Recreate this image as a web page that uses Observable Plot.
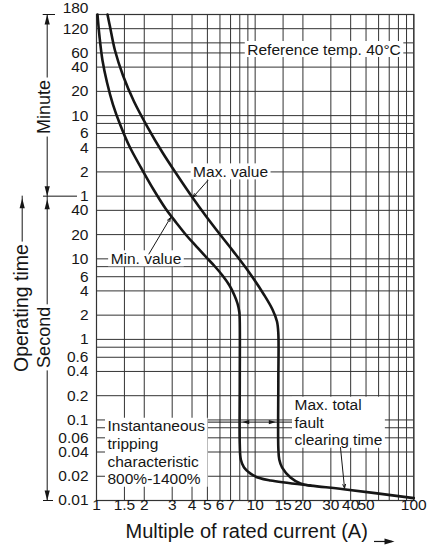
<!DOCTYPE html>
<html><head><meta charset="utf-8">
<script src="https://cdn.jsdelivr.net/npm/d3@7"></script>
<script src="https://cdn.jsdelivr.net/npm/@observablehq/plot@0.6"></script>
<style>html,body{margin:0;padding:0;background:#fff;}</style>
</head><body><div id="chart"></div>
<script>
// ---------------- data (multiple of rated current, operating time in seconds) ----------------
const minCurveX = [1.0146, 1.0445, 1.091, 1.165, 1.27, 1.417, 1.615, 1.921, 2.287, 2.723, 3.193, 3.692, 4.269, 4.864, 5.543, 6.225, 6.893, 7.41, 7.74, 7.95, 8.0, 8.0, 8.0, 8.12, 8.51, 9.35, 10.65, 12.5, 22.3, 36.1, 100];
const minCurveT = [10800, 5759, 2900, 1546, 824, 452, 248, 132.3, 72.6, 42.2, 27.9, 19.5, 14.2, 10.7, 8.15, 6.21, 4.67, 3.51, 2.79, 2.16, 1.62, 0.3, 0.05, 0.0323, 0.0257, 0.0216, 0.0190, 0.0177, 0.0153, 0.0138, 0.0107];
const maxCurveX = [1.173, 1.216, 1.308, 1.469, 1.723, 2.097, 2.606, 3.241, 4.028, 4.864, 5.875, 7.303, 9.08, 11.45, 12.86, 13.73, 14.0, 14.0, 14.0, 14.2, 14.8, 16.7, 19.3, 22.3];
const maxCurveT = [10800, 7663, 3859, 1889, 898, 433, 209, 108.3, 57.7, 34.5, 21.2, 12.3, 6.96, 3.51, 2.35, 1.67, 1.18, 0.3, 0.045, 0.032, 0.0256, 0.0193, 0.0163, 0.0153];
const instantRange = [8, 14];              // 800% - 1400%

// ---------------- ticks / grid ----------------
const xTickValues = [1, 1.5, 2, 3, 4, 5, 6, 7, 10, 15, 20, 30, 40, 50, 100];
const xGridValues = [1, 1.5, 2, 3, 4, 5, 6, 7, 8, 9, 10, 15, 20, 30, 40, 50, 60, 70, 80, 90, 100];
const minuteTicks = [180, 120, 60, 40, 20, 10, 6, 4, 2, 1];
const minuteGrid = [120, 80, 60, 40, 20, 10, 8, 6, 4, 2, 1];
const secondTicks = [40, 20, 10, 6, 4, 2, 1, 0.6, 0.4, 0.2, 0.1, 0.06, 0.04, 0.02, 0.01];
const secondGrid = [40, 20, 10, 8, 6, 4, 2, 1, 0.8, 0.6, 0.4, 0.2, 0.1, 0.08, 0.06, 0.04, 0.02];

// ---------------- texts ----------------
const xTitle = "Multiple of rated current (A)";
const refTempText = "Reference temp. 40°C";
const maxLabel = {x: 7.0, t: 120, text: "Max. value"};
const minLabel = {x: 2.05, t: 10, text: "Min. value"};
const faultLabel = {x: 17.7, t: 0.094, text: "Max. total\nfault\nclearing time"};
const instLabel = {x: 1.173, t: 0.0399, text: "Instantaneous\ntripping\ncharacteristic\n800%-1400%"};
const maxLeader = {x1: 5.03, t1: 93.8, x2: 4.05, t2: 58};
const minLeader = {x1: 2.14, t1: 11.5, x2: 2.93, t2: 32.5};
const faultLeader = {x1: 34.5, t1: 0.0455, x2: 36.6, t2: 0.0142};

// ---------------- layout ----------------
const W = 428, H = 551, mL = 96, mR = 14.7, mT = 14, mB = 51;
const decX = (W - mL - mR) / 2;
const xAtPx = px => 10 ** ((px - mL) / decX); // for margin decorations only
const FONT = "'Liberation Sans', Arial, Helvetica, sans-serif";
const INK = "#161616", GRID = "#333333";

const minCurve = minCurveX.map((x, i) => ({x, t: minCurveT[i]}));
const maxCurve = maxCurveX.map((x, i) => ({x, t: maxCurveT[i]}));
const yGrid = [...minuteGrid.map(m => m * 60), ...secondGrid];
const yLabels = [...minuteTicks.map(m => ({t: m * 60, label: String(m)})),
                 ...secondTicks.map(s => ({t: s, label: String(s)}))];

const headUp = {draw(c) { c.moveTo(0, 0); c.lineTo(-2.6, 10); c.lineTo(2.6, 10); c.closePath(); }};
const headDown = {draw(c) { c.moveTo(0, 0); c.lineTo(-2.6, -10); c.lineTo(2.6, -10); c.closePath(); }};
const headLeft = {draw(c) { c.moveTo(0, 0); c.lineTo(7, -2.2); c.lineTo(7, 2.2); c.closePath(); }};
const headRight = {draw(c) { c.moveTo(0, 0); c.lineTo(-7, -2.2); c.lineTo(-7, 2.2); c.closePath(); }};
const headRightBig = {draw(c) { c.moveTo(0, 0); c.lineTo(-10, -3); c.lineTo(-10, 3); c.closePath(); }};

const axX = xAtPx(46.7);    // minute / second arrow column
const axOp = xAtPx(21.7);   // operating time arrow column
const one = () => 1;
const titleArrowT = 0.0031;

const boxed = new Set([refTempText, maxLabel.text, minLabel.text, faultLabel.text, instLabel.text,
                       "Minute", "Second", "Operating time"].map(s => s.replace(/\n/g, "")));

const plot = Plot.plot({
  width: W, height: H,
  marginLeft: mL, marginRight: mR, marginTop: mT, marginBottom: mB,
  x: {type: "log", domain: [1, 100], axis: null},
  y: {type: "log", domain: [0.01, 10800], axis: null},
  style: {fontFamily: FONT, fontSize: "15px", color: INK, background: "#fff", overflow: "visible"},
  marks: [
    // grid + frame
    Plot.ruleX(xGridValues, {x: d => d, stroke: GRID, strokeWidth: 1}),
    Plot.ruleY(yGrid, {y: d => d, stroke: GRID, strokeWidth: 1}),
    Plot.frame({stroke: GRID, strokeWidth: 1.2}),

    // instantaneous range leader line (its ends are hidden under the label boxes)
    Plot.ruleY([faultLabel.t], {y: d => d, x1: instLabel.x, x2: faultLabel.x, stroke: INK, strokeWidth: 1}),

    // boxed labels
    Plot.text([refTempText], {frameAnchor: "top-right", textAnchor: "end", dx: -13, dy: 29, fontSize: 15.5, fill: INK}),
    Plot.text([maxLabel], {x: "x", y: "t", text: "text", fontSize: 15.5, fill: INK}),
    Plot.text([minLabel], {x: "x", y: "t", text: "text", fontSize: 15.5, fill: INK}),
    Plot.text([faultLabel], {x: "x", y: "t", text: "text", textAnchor: "start", lineHeight: 1.13, fontSize: 15.5, fill: INK}),
    Plot.text([instLabel], {x: "x", y: "t", text: "text", textAnchor: "start", lineHeight: 1.14, fontSize: 15.5, fill: INK}),

    // leaders
    Plot.arrow([maxLeader], {x1: "x1", y1: "t1", x2: "x2", y2: "t2", stroke: INK, strokeWidth: 1, headLength: 6, headAngle: 40}),
    Plot.arrow([minLeader], {x1: "x1", y1: "t1", x2: "x2", y2: "t2", stroke: INK, strokeWidth: 1, headLength: 6, headAngle: 40}),
    Plot.arrow([faultLeader], {x1: "x1", y1: "t1", x2: "x2", y2: "t2", stroke: INK, strokeWidth: 1, headLength: 6, headAngle: 40}),

    // arrowheads at the instantaneous band edges
    Plot.dot([instantRange[0]], {x: d => d, y: () => faultLabel.t, dx: 2.5, symbol: headLeft, fill: INK, stroke: "none"}),
    Plot.dot([instantRange[1]], {x: d => d, y: () => faultLabel.t, dx: -2.5, symbol: headRight, fill: INK, stroke: "none"}),

    // curves
    Plot.line(minCurve, {x: "x", y: "t", curve: "catmull-rom", stroke: INK, strokeWidth: 2.6}),
    Plot.line(maxCurve, {x: "x", y: "t", curve: "catmull-rom", stroke: INK, strokeWidth: 2.6}),

    // tick labels
    Plot.text(yLabels.filter(d => d.t !== 10800), {x: one, y: "t", text: "label", textAnchor: "end", dx: -8, fontSize: 15.5, fill: INK}),
    Plot.text(yLabels.filter(d => d.t === 10800), {x: one, y: "t", text: "label", textAnchor: "end", dx: -8, dy: -6, fontSize: 15.5, fill: INK}),
    Plot.text(xTickValues, {x: d => d, y: () => 0.01, text: d => String(d), dy: 5, fontSize: 15.5, fill: INK}),

    // left side annotation: Minute / Second / Operating time
    Plot.ruleX([axX], {x: d => d, y1: 10800, y2: 60, stroke: INK, strokeWidth: 1}),
    Plot.ruleX([axX], {x: d => d, y1: 60, y2: 0.01, stroke: INK, strokeWidth: 1}),
    Plot.ruleX([axOp], {x: d => d, y1: 60, y2: 2.45, stroke: INK, strokeWidth: 1}),
    Plot.ruleY([10800], {y: d => d, x1: xAtPx(42.7), x2: xAtPx(55), stroke: INK, strokeWidth: 1}),
    Plot.ruleY([60], {y: d => d, x1: xAtPx(43), x2: xAtPx(77), stroke: INK, strokeWidth: 1}),
    Plot.ruleY([0.01], {y: d => d, x1: xAtPx(43), x2: xAtPx(53), stroke: INK, strokeWidth: 1}),
    Plot.dot([10800], {x: () => axX, y: d => d, symbol: headUp, fill: INK, stroke: "none"}),
    Plot.dot([60], {x: () => axX, y: d => d, symbol: headDown, fill: INK, stroke: "none"}),
    Plot.dot([60], {x: () => axX, y: d => d, dy: 3, symbol: headUp, fill: INK, stroke: "none"}),
    Plot.dot([0.01], {x: () => axX, y: d => d, symbol: headDown, fill: INK, stroke: "none"}),
    Plot.dot([60], {x: () => axOp, y: d => d, dy: 2, symbol: headUp, fill: INK, stroke: "none"}),
    Plot.text(["Minute"], {x: () => xAtPx(43.3), y: () => 767, rotate: -90, fontSize: 18, fill: INK}),
    Plot.text(["Second"], {x: () => xAtPx(43.3), y: () => 1.06, rotate: -90, fontSize: 18, fill: INK}),
    Plot.text(["Operating time"], {x: () => axOp, y: () => 2.45, rotate: -90, fontSize: 19.5, fill: INK}),

    // x title with arrow
    Plot.text([xTitle], {frameAnchor: "bottom-left", textAnchor: "start", dx: 29, dy: 37, fontSize: 20, fill: INK}),
    Plot.ruleY([titleArrowT], {y: d => d, x1: xAtPx(374), x2: xAtPx(392), stroke: INK, strokeWidth: 1.2}),
    Plot.dot([titleArrowT], {x: () => xAtPx(394), y: d => d, symbol: headRightBig, fill: INK, stroke: "none"})
  ]
});

document.getElementById("chart").append(plot);

// white boxes behind the labelled texts (sized from the rendered text)
const NS = "http://www.w3.org/2000/svg";
plot.querySelectorAll("text").forEach(t => {
  if (!boxed.has(t.textContent)) return;
  const b = t.getBBox();
  const r = document.createElementNS(NS, "rect");
  const px = 2.5, py = -0.5;
  r.setAttribute("x", b.x - px);
  r.setAttribute("y", b.y - py);
  r.setAttribute("width", b.width + 2 * px);
  r.setAttribute("height", b.height + 2 * py);
  r.setAttribute("fill", "#fff");
  if (t.getAttribute("transform")) r.setAttribute("transform", t.getAttribute("transform"));
  t.parentNode.insertBefore(r, t);
});
</script>
</body></html>
